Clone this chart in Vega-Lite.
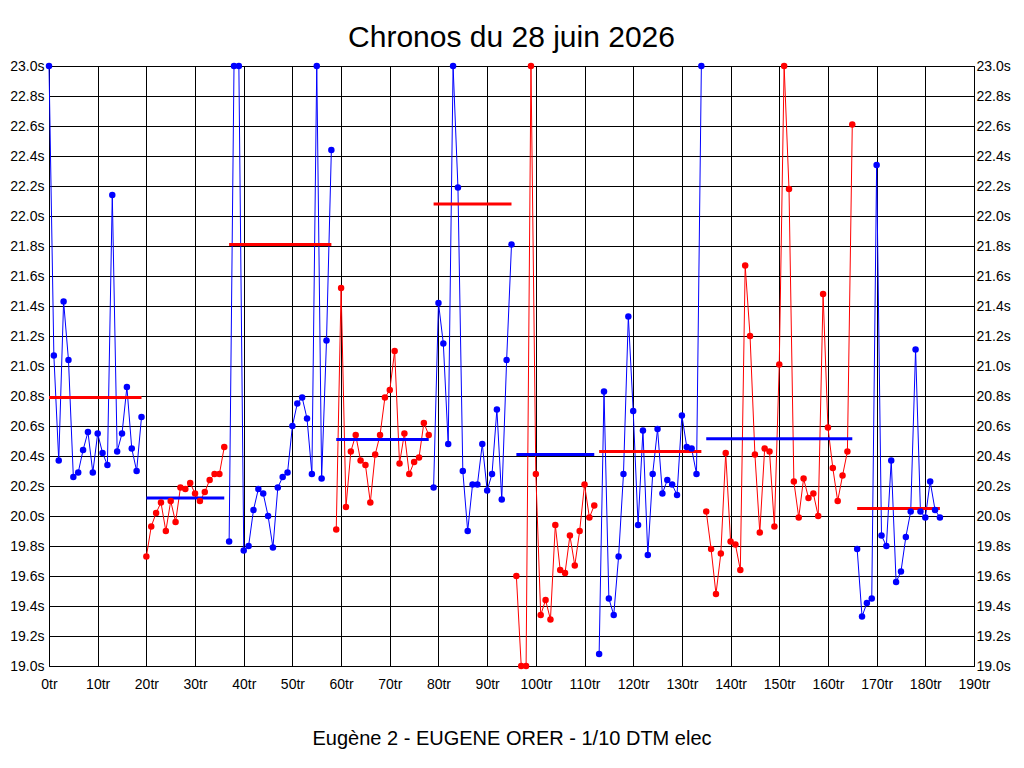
{
  "$schema": "https://vega.github.io/schema/vega-lite/v6.json",
  "width": 925,
  "height": 600,
  "autosize": {"type": "none"},
  "padding": {"left": 49, "top": 66, "right": 50, "bottom": 102},
  "background": "white",
  "title": {
    "text": "Chronos du 28 juin 2026",
    "font": "Liberation Sans",
    "fontSize": 30,
    "fontWeight": "normal",
    "color": "black",
    "anchor": "middle",
    "frame": "group",
    "baseline": "alphabetic",
    "offset": -18
  },
  "config": {
    "view": {"stroke": "black", "strokeWidth": 1},
    "axis": {
      "labelFont": "Liberation Sans",
      "labelFontSize": 14,
      "labelColor": "black",
      "ticks": false,
      "domain": false,
      "gridColor": "black",
      "gridOpacity": 1,
      "gridWidth": 1,
      "labelFlush": false,
      "labelOverlap": false
    }
  },
  "datasets": {
    "tours": [
      {"tour": 0, "temps": 23.0, "relais": 1, "serie": "A"},
      {"tour": 1, "temps": 21.07, "relais": 1, "serie": "A"},
      {"tour": 2, "temps": 20.37, "relais": 1, "serie": "A"},
      {"tour": 3, "temps": 21.43, "relais": 1, "serie": "A"},
      {"tour": 4, "temps": 21.04, "relais": 1, "serie": "A"},
      {"tour": 5, "temps": 20.26, "relais": 1, "serie": "A"},
      {"tour": 6, "temps": 20.29, "relais": 1, "serie": "A"},
      {"tour": 7, "temps": 20.44, "relais": 1, "serie": "A"},
      {"tour": 8, "temps": 20.56, "relais": 1, "serie": "A"},
      {"tour": 9, "temps": 20.29, "relais": 1, "serie": "A"},
      {"tour": 10, "temps": 20.55, "relais": 1, "serie": "A"},
      {"tour": 11, "temps": 20.42, "relais": 1, "serie": "A"},
      {"tour": 12, "temps": 20.34, "relais": 1, "serie": "A"},
      {"tour": 13, "temps": 22.14, "relais": 1, "serie": "A"},
      {"tour": 14, "temps": 20.43, "relais": 1, "serie": "A"},
      {"tour": 15, "temps": 20.55, "relais": 1, "serie": "A"},
      {"tour": 16, "temps": 20.86, "relais": 1, "serie": "A"},
      {"tour": 17, "temps": 20.45, "relais": 1, "serie": "A"},
      {"tour": 18, "temps": 20.30, "relais": 1, "serie": "A"},
      {"tour": 19, "temps": 20.66, "relais": 1, "serie": "A"},
      {"tour": 20, "temps": 19.73, "relais": 2, "serie": "B"},
      {"tour": 21, "temps": 19.93, "relais": 2, "serie": "B"},
      {"tour": 22, "temps": 20.02, "relais": 2, "serie": "B"},
      {"tour": 23, "temps": 20.09, "relais": 2, "serie": "B"},
      {"tour": 24, "temps": 19.90, "relais": 2, "serie": "B"},
      {"tour": 25, "temps": 20.10, "relais": 2, "serie": "B"},
      {"tour": 26, "temps": 19.96, "relais": 2, "serie": "B"},
      {"tour": 27, "temps": 20.19, "relais": 2, "serie": "B"},
      {"tour": 28, "temps": 20.18, "relais": 2, "serie": "B"},
      {"tour": 29, "temps": 20.22, "relais": 2, "serie": "B"},
      {"tour": 30, "temps": 20.15, "relais": 2, "serie": "B"},
      {"tour": 31, "temps": 20.10, "relais": 2, "serie": "B"},
      {"tour": 32, "temps": 20.16, "relais": 2, "serie": "B"},
      {"tour": 33, "temps": 20.24, "relais": 2, "serie": "B"},
      {"tour": 34, "temps": 20.28, "relais": 2, "serie": "B"},
      {"tour": 35, "temps": 20.28, "relais": 2, "serie": "B"},
      {"tour": 36, "temps": 20.46, "relais": 2, "serie": "B"},
      {"tour": 37, "temps": 19.83, "relais": 3, "serie": "A"},
      {"tour": 38, "temps": 23.0, "relais": 3, "serie": "A"},
      {"tour": 39, "temps": 23.0, "relais": 3, "serie": "A"},
      {"tour": 40, "temps": 19.77, "relais": 3, "serie": "A"},
      {"tour": 41, "temps": 19.80, "relais": 3, "serie": "A"},
      {"tour": 42, "temps": 20.04, "relais": 3, "serie": "A"},
      {"tour": 43, "temps": 20.18, "relais": 3, "serie": "A"},
      {"tour": 44, "temps": 20.15, "relais": 3, "serie": "A"},
      {"tour": 45, "temps": 20.00, "relais": 3, "serie": "A"},
      {"tour": 46, "temps": 19.79, "relais": 3, "serie": "A"},
      {"tour": 47, "temps": 20.19, "relais": 3, "serie": "A"},
      {"tour": 48, "temps": 20.26, "relais": 3, "serie": "A"},
      {"tour": 49, "temps": 20.29, "relais": 3, "serie": "A"},
      {"tour": 50, "temps": 20.60, "relais": 3, "serie": "A"},
      {"tour": 51, "temps": 20.75, "relais": 3, "serie": "A"},
      {"tour": 52, "temps": 20.79, "relais": 3, "serie": "A"},
      {"tour": 53, "temps": 20.65, "relais": 3, "serie": "A"},
      {"tour": 54, "temps": 20.28, "relais": 3, "serie": "A"},
      {"tour": 55, "temps": 23.0, "relais": 3, "serie": "A"},
      {"tour": 56, "temps": 20.25, "relais": 3, "serie": "A"},
      {"tour": 57, "temps": 21.17, "relais": 3, "serie": "A"},
      {"tour": 58, "temps": 22.44, "relais": 3, "serie": "A"},
      {"tour": 59, "temps": 19.91, "relais": 4, "serie": "B"},
      {"tour": 60, "temps": 21.52, "relais": 4, "serie": "B"},
      {"tour": 61, "temps": 20.06, "relais": 4, "serie": "B"},
      {"tour": 62, "temps": 20.43, "relais": 4, "serie": "B"},
      {"tour": 63, "temps": 20.54, "relais": 4, "serie": "B"},
      {"tour": 64, "temps": 20.37, "relais": 4, "serie": "B"},
      {"tour": 65, "temps": 20.34, "relais": 4, "serie": "B"},
      {"tour": 66, "temps": 20.09, "relais": 4, "serie": "B"},
      {"tour": 67, "temps": 20.41, "relais": 4, "serie": "B"},
      {"tour": 68, "temps": 20.54, "relais": 4, "serie": "B"},
      {"tour": 69, "temps": 20.79, "relais": 4, "serie": "B"},
      {"tour": 70, "temps": 20.84, "relais": 4, "serie": "B"},
      {"tour": 71, "temps": 21.10, "relais": 4, "serie": "B"},
      {"tour": 72, "temps": 20.35, "relais": 4, "serie": "B"},
      {"tour": 73, "temps": 20.55, "relais": 4, "serie": "B"},
      {"tour": 74, "temps": 20.28, "relais": 4, "serie": "B"},
      {"tour": 75, "temps": 20.36, "relais": 4, "serie": "B"},
      {"tour": 76, "temps": 20.39, "relais": 4, "serie": "B"},
      {"tour": 77, "temps": 20.62, "relais": 4, "serie": "B"},
      {"tour": 78, "temps": 20.54, "relais": 4, "serie": "B"},
      {"tour": 79, "temps": 20.19, "relais": 5, "serie": "A"},
      {"tour": 80, "temps": 21.42, "relais": 5, "serie": "A"},
      {"tour": 81, "temps": 21.15, "relais": 5, "serie": "A"},
      {"tour": 82, "temps": 20.48, "relais": 5, "serie": "A"},
      {"tour": 83, "temps": 23.0, "relais": 5, "serie": "A"},
      {"tour": 84, "temps": 22.19, "relais": 5, "serie": "A"},
      {"tour": 85, "temps": 20.30, "relais": 5, "serie": "A"},
      {"tour": 86, "temps": 19.90, "relais": 5, "serie": "A"},
      {"tour": 87, "temps": 20.21, "relais": 5, "serie": "A"},
      {"tour": 88, "temps": 20.21, "relais": 5, "serie": "A"},
      {"tour": 89, "temps": 20.48, "relais": 5, "serie": "A"},
      {"tour": 90, "temps": 20.17, "relais": 5, "serie": "A"},
      {"tour": 91, "temps": 20.28, "relais": 5, "serie": "A"},
      {"tour": 92, "temps": 20.71, "relais": 5, "serie": "A"},
      {"tour": 93, "temps": 20.11, "relais": 5, "serie": "A"},
      {"tour": 94, "temps": 21.04, "relais": 5, "serie": "A"},
      {"tour": 95, "temps": 21.81, "relais": 5, "serie": "A"},
      {"tour": 96, "temps": 19.60, "relais": 6, "serie": "B"},
      {"tour": 97, "temps": 19.0, "relais": 6, "serie": "B"},
      {"tour": 98, "temps": 19.0, "relais": 6, "serie": "B"},
      {"tour": 99, "temps": 23.0, "relais": 6, "serie": "B"},
      {"tour": 100, "temps": 20.28, "relais": 6, "serie": "B"},
      {"tour": 101, "temps": 19.34, "relais": 6, "serie": "B"},
      {"tour": 102, "temps": 19.44, "relais": 6, "serie": "B"},
      {"tour": 103, "temps": 19.31, "relais": 6, "serie": "B"},
      {"tour": 104, "temps": 19.94, "relais": 6, "serie": "B"},
      {"tour": 105, "temps": 19.64, "relais": 6, "serie": "B"},
      {"tour": 106, "temps": 19.62, "relais": 6, "serie": "B"},
      {"tour": 107, "temps": 19.87, "relais": 6, "serie": "B"},
      {"tour": 108, "temps": 19.67, "relais": 6, "serie": "B"},
      {"tour": 109, "temps": 19.90, "relais": 6, "serie": "B"},
      {"tour": 110, "temps": 20.21, "relais": 6, "serie": "B"},
      {"tour": 111, "temps": 19.99, "relais": 6, "serie": "B"},
      {"tour": 112, "temps": 20.07, "relais": 6, "serie": "B"},
      {"tour": 113, "temps": 19.08, "relais": 7, "serie": "A"},
      {"tour": 114, "temps": 20.83, "relais": 7, "serie": "A"},
      {"tour": 115, "temps": 19.45, "relais": 7, "serie": "A"},
      {"tour": 116, "temps": 19.34, "relais": 7, "serie": "A"},
      {"tour": 117, "temps": 19.73, "relais": 7, "serie": "A"},
      {"tour": 118, "temps": 20.28, "relais": 7, "serie": "A"},
      {"tour": 119, "temps": 21.33, "relais": 7, "serie": "A"},
      {"tour": 120, "temps": 20.70, "relais": 7, "serie": "A"},
      {"tour": 121, "temps": 19.94, "relais": 7, "serie": "A"},
      {"tour": 122, "temps": 20.57, "relais": 7, "serie": "A"},
      {"tour": 123, "temps": 19.74, "relais": 7, "serie": "A"},
      {"tour": 124, "temps": 20.28, "relais": 7, "serie": "A"},
      {"tour": 125, "temps": 20.58, "relais": 7, "serie": "A"},
      {"tour": 126, "temps": 20.15, "relais": 7, "serie": "A"},
      {"tour": 127, "temps": 20.24, "relais": 7, "serie": "A"},
      {"tour": 128, "temps": 20.21, "relais": 7, "serie": "A"},
      {"tour": 129, "temps": 20.14, "relais": 7, "serie": "A"},
      {"tour": 130, "temps": 20.67, "relais": 7, "serie": "A"},
      {"tour": 131, "temps": 20.46, "relais": 7, "serie": "A"},
      {"tour": 132, "temps": 20.45, "relais": 7, "serie": "A"},
      {"tour": 133, "temps": 20.28, "relais": 7, "serie": "A"},
      {"tour": 134, "temps": 23.0, "relais": 7, "serie": "A"},
      {"tour": 135, "temps": 20.03, "relais": 8, "serie": "B"},
      {"tour": 136, "temps": 19.78, "relais": 8, "serie": "B"},
      {"tour": 137, "temps": 19.48, "relais": 8, "serie": "B"},
      {"tour": 138, "temps": 19.75, "relais": 8, "serie": "B"},
      {"tour": 139, "temps": 20.42, "relais": 8, "serie": "B"},
      {"tour": 140, "temps": 19.83, "relais": 8, "serie": "B"},
      {"tour": 141, "temps": 19.81, "relais": 8, "serie": "B"},
      {"tour": 142, "temps": 19.64, "relais": 8, "serie": "B"},
      {"tour": 143, "temps": 21.67, "relais": 8, "serie": "B"},
      {"tour": 144, "temps": 21.20, "relais": 8, "serie": "B"},
      {"tour": 145, "temps": 20.41, "relais": 8, "serie": "B"},
      {"tour": 146, "temps": 19.89, "relais": 8, "serie": "B"},
      {"tour": 147, "temps": 20.45, "relais": 8, "serie": "B"},
      {"tour": 148, "temps": 20.43, "relais": 8, "serie": "B"},
      {"tour": 149, "temps": 19.93, "relais": 8, "serie": "B"},
      {"tour": 150, "temps": 21.01, "relais": 8, "serie": "B"},
      {"tour": 151, "temps": 23.0, "relais": 8, "serie": "B"},
      {"tour": 152, "temps": 22.18, "relais": 8, "serie": "B"},
      {"tour": 153, "temps": 20.23, "relais": 8, "serie": "B"},
      {"tour": 154, "temps": 19.99, "relais": 8, "serie": "B"},
      {"tour": 155, "temps": 20.25, "relais": 8, "serie": "B"},
      {"tour": 156, "temps": 20.12, "relais": 8, "serie": "B"},
      {"tour": 157, "temps": 20.15, "relais": 8, "serie": "B"},
      {"tour": 158, "temps": 20.00, "relais": 8, "serie": "B"},
      {"tour": 159, "temps": 21.48, "relais": 8, "serie": "B"},
      {"tour": 160, "temps": 20.59, "relais": 8, "serie": "B"},
      {"tour": 161, "temps": 20.32, "relais": 8, "serie": "B"},
      {"tour": 162, "temps": 20.10, "relais": 8, "serie": "B"},
      {"tour": 163, "temps": 20.27, "relais": 8, "serie": "B"},
      {"tour": 164, "temps": 20.43, "relais": 8, "serie": "B"},
      {"tour": 165, "temps": 22.61, "relais": 8, "serie": "B"},
      {"tour": 166, "temps": 19.78, "relais": 9, "serie": "A"},
      {"tour": 167, "temps": 19.33, "relais": 9, "serie": "A"},
      {"tour": 168, "temps": 19.42, "relais": 9, "serie": "A"},
      {"tour": 169, "temps": 19.45, "relais": 9, "serie": "A"},
      {"tour": 170, "temps": 22.34, "relais": 9, "serie": "A"},
      {"tour": 171, "temps": 19.87, "relais": 9, "serie": "A"},
      {"tour": 172, "temps": 19.80, "relais": 9, "serie": "A"},
      {"tour": 173, "temps": 20.37, "relais": 9, "serie": "A"},
      {"tour": 174, "temps": 19.56, "relais": 9, "serie": "A"},
      {"tour": 175, "temps": 19.63, "relais": 9, "serie": "A"},
      {"tour": 176, "temps": 19.86, "relais": 9, "serie": "A"},
      {"tour": 177, "temps": 20.03, "relais": 9, "serie": "A"},
      {"tour": 178, "temps": 21.11, "relais": 9, "serie": "A"},
      {"tour": 179, "temps": 20.03, "relais": 9, "serie": "A"},
      {"tour": 180, "temps": 19.99, "relais": 9, "serie": "A"},
      {"tour": 181, "temps": 20.23, "relais": 9, "serie": "A"},
      {"tour": 182, "temps": 20.04, "relais": 9, "serie": "A"},
      {"tour": 183, "temps": 19.99, "relais": 9, "serie": "A"}
    ],
    "moyennes": [
      {"relais": 1, "debut": 0, "fin": 19, "moyenne": 20.79, "serie": "A"},
      {"relais": 2, "debut": 20, "fin": 36, "moyenne": 20.12, "serie": "B"},
      {"relais": 3, "debut": 37, "fin": 58, "moyenne": 21.81, "serie": "A"},
      {"relais": 4, "debut": 59, "fin": 78, "moyenne": 20.51, "serie": "B"},
      {"relais": 5, "debut": 79, "fin": 95, "moyenne": 22.08, "serie": "A"},
      {"relais": 6, "debut": 96, "fin": 112, "moyenne": 20.41, "serie": "B"},
      {"relais": 7, "debut": 113, "fin": 134, "moyenne": 20.43, "serie": "A"},
      {"relais": 8, "debut": 135, "fin": 165, "moyenne": 20.515, "serie": "B"},
      {"relais": 9, "debut": 166, "fin": 183, "moyenne": 20.05, "serie": "A"}
    ]
  },
  "layer": [
    {
      "data": {"name": "tours"},
      "mark": {"type": "line", "strokeWidth": 1},
      "encoding": {
        "x": {
          "field": "tour",
          "type": "quantitative",
          "scale": {"domain": [0, 190], "nice": false},
          "axis": {
            "values": [0, 10, 20, 30, 40, 50, 60, 70, 80, 90, 100, 110, 120, 130, 140, 150, 160, 170, 180, 190],
            "labelExpr": "datum.value + 'tr'",
            "labelPadding": 11,
            "title": "Eugène 2 - EUGENE ORER - 1/10 DTM elec",
            "titleFont": "Liberation Sans",
            "titleFontSize": 20,
            "titleFontWeight": "normal",
            "titleColor": "black",
            "titleBaseline": "alphabetic",
            "titleY": 78
          }
        },
        "y": {
          "field": "temps",
          "type": "quantitative",
          "scale": {"domain": [19, 23], "nice": false, "zero": false},
          "axis": {
            "orient": "left",
            "values": [19, 19.2, 19.4, 19.6, 19.8, 20, 20.2, 20.4, 20.6, 20.8, 21, 21.2, 21.4, 21.6, 21.8, 22, 22.2, 22.4, 22.6, 22.8, 23],
            "labelExpr": "format(datum.value, '.1f') + 's'",
            "labelPadding": 5,
            "title": null
          }
        },
        "color": {
          "field": "serie",
          "type": "nominal",
          "scale": {"domain": ["A", "B"], "range": ["#0000ff", "#ff0000"]},
          "legend": null
        },
        "detail": {"field": "relais"}
      }
    },
    {
      "data": {"name": "moyennes"},
      "mark": {"type": "rule", "strokeWidth": 3},
      "encoding": {
        "x": {"field": "debut", "type": "quantitative"},
        "x2": {"field": "fin"},
        "y": {"field": "moyenne", "type": "quantitative", "axis": null},
        "color": {
          "field": "serie",
          "type": "nominal",
          "scale": {"domain": ["A", "B"], "range": ["#ff0000", "#0000ff"]},
          "legend": null
        }
      }
    },
    {
      "data": {"name": "tours"},
      "mark": {"type": "circle", "size": 42, "opacity": 1},
      "encoding": {
        "x": {"field": "tour", "type": "quantitative"},
        "y": {
          "field": "temps",
          "type": "quantitative",
          "axis": {
            "orient": "right",
            "values": [19, 19.2, 19.4, 19.6, 19.8, 20, 20.2, 20.4, 20.6, 20.8, 21, 21.2, 21.4, 21.6, 21.8, 22, 22.2, 22.4, 22.6, 22.8, 23],
            "labelExpr": "format(datum.value, '.1f') + 's'",
            "labelPadding": 2,
            "grid": false,
            "title": null
          }
        },
        "color": {
          "field": "serie",
          "type": "nominal",
          "scale": {"domain": ["A", "B"], "range": ["#0000ff", "#ff0000"]},
          "legend": null
        }
      }
    }
  ],
  "resolve": {"scale": {"color": "independent"}, "axis": {"y": "independent"}}
}
